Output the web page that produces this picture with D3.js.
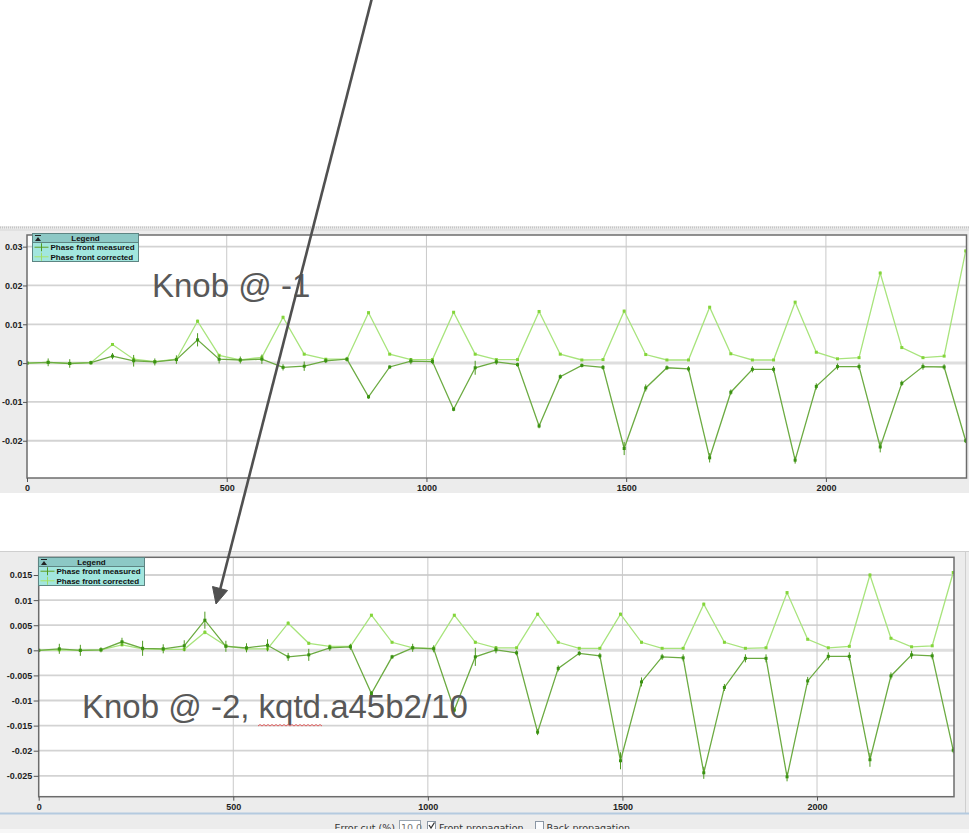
<!DOCTYPE html>
<html>
<head>
<meta charset="utf-8">
<script src="https://cdn.jsdelivr.net/npm/d3@7"></script>
<style>
  body { margin: 0; background: #fff; }
  svg { display: block; }
  .axis text { font-family: 'Liberation Sans', Arial, sans-serif; font-weight: bold; fill: #1e1e1e; }
  .axis line { stroke: #555; }
</style>
</head>
<body>
<svg width="969" height="833"></svg>
<script>
// position along the line (m), same for both plots
var sPos = [0, 53, 107, 160, 214, 267, 320, 374, 427, 481, 534, 588, 641, 694, 748,
  801, 855, 908, 961, 1015, 1068, 1122, 1175, 1228, 1282, 1335, 1389, 1442, 1495, 1549,
  1602, 1656, 1709, 1762, 1816, 1869, 1923, 1976, 2029, 2083, 2136, 2190, 2243, 2296, 2350];

// knob @ -1
var measuredTop = [0, 0.0002, -0.0001, 0.0001, 0.0018, 0.0006, 0.0003, 0.0009, 0.006, 0.001, 0.0008, 0.001, -0.0011, -0.0008, 0.0006,
  0.001, -0.0087, -0.001, 0.0005, 0.0004, -0.0119, -0.0012, 0.0003, -0.0004, -0.0162, -0.0035, -0.0006, -0.0011, -0.022, -0.0064,
  -0.0012, -0.0015, -0.0244, -0.0075, -0.0016, -0.0016, -0.025, -0.006, -0.0009, -0.0009, -0.0216, -0.0052, -0.0009, -0.001, -0.02];
var correctedTop = [0, 0.0002, -0.0001, 0.0001, 0.0048, 0.001, 0.0004, 0.001, 0.0108, 0.002, 0.0008, 0.0015, 0.0118, 0.0023, 0.001,
  0.001, 0.013, 0.0023, 0.0009, 0.0009, 0.0131, 0.0023, 0.0009, 0.0009, 0.0133, 0.0023, 0.0008, 0.0009, 0.0134, 0.0022,
  0.0008, 0.0008, 0.0144, 0.0024, 0.0008, 0.0008, 0.0157, 0.0028, 0.0011, 0.0014, 0.0232, 0.004, 0.0014, 0.0018, 0.0289];

// knob @ -2, kqtd.a45b2/10
var measuredBottom = [0, 0.0003, 0, 0.0001, 0.0017, 0.0004, 0.0003, 0.0009, 0.006, 0.0008, 0.0005, 0.001, -0.0013, -0.0009, 0.0005,
  0.0007, -0.0086, -0.0013, 0.0005, 0.0003, -0.0119, -0.0013, 0.0001, -0.0005, -0.0163, -0.0036, -0.0006, -0.0011, -0.022, -0.0063,
  -0.0013, -0.0015, -0.0244, -0.0074, -0.0016, -0.0016, -0.0252, -0.0061, -0.0012, -0.0012, -0.0218, -0.0051, -0.0009, -0.0011, -0.0199];
var correctedBottom = [0, 0.0001, 0, 0.0001, 0.0011, 0.0003, 0.0002, 0.0002, 0.0036, 0.0009, 0.0003, 0.0003, 0.0054, 0.0014, 0.0008,
  0.0008, 0.007, 0.0016, 0.0005, 0.0004, 0.007, 0.0016, 0.0005, 0.0005, 0.0072, 0.0016, 0.0004, 0.0004, 0.0072, 0.0016,
  0.0004, 0.0004, 0.0092, 0.0016, 0.0004, 0.0005, 0.0115, 0.0022, 0.0005, 0.0008, 0.015, 0.0024, 0.0007, 0.0009, 0.0155];

// error bars
var errMeasured = [0.0002, 0.001, 0.0011, 0.0005, 0.0008, 0.0015, 0.0009, 0.0011, 0.0017, 0.0011, 0.0009, 0.0012, 0.0008, 0.0012, 0.0006,
  0.0006, 0.0005, 0.0004, 0.0008, 0.0007, 0.0005, 0.0018, 0.0007, 0.0005, 0.0006, 0.0006, 0.0005, 0.0006, 0.0017, 0.0009,
  0.0006, 0.0007, 0.0012, 0.0007, 0.0008, 0.0008, 0.0009, 0.0008, 0.0008, 0.0008, 0.0014, 0.0007, 0.0008, 0.0007, 0.0006];
var errCorrected = [0.0001, 0.0003, 0.0003, 0.0002, 0.0003, 0.0004, 0.0003, 0.0003, 0.0004, 0.0003, 0.0003, 0.0003, 0.0004, 0.0003, 0.0002,
  0.0002, 0.0002, 0.0002, 0.0003, 0.0003, 0.0002, 0.0003, 0.0002, 0.0002, 0.0002, 0.0002, 0.0002, 0.0002, 0.0003, 0.0003,
  0.0002, 0.0002, 0.0003, 0.0002, 0.0002, 0.0002, 0.0003, 0.0002, 0.0002, 0.0002, 0.0003, 0.0002, 0.0002, 0.0002, 0.0003];

var xTicks = [0, 500, 1000, 1500, 2000];
var yTicksTop = [-0.02, -0.01, 0, 0.01, 0.02, 0.03];
var yTicksBottom = [-0.025, -0.02, -0.015, -0.01, -0.005, 0, 0.005, 0.01, 0.015];
var seriesNames = ['Phase front measured', 'Phase front corrected'];

var colors = {
  measured: {line: '#6cab42', mark: '#3a9212', err: '#4e9a20'},
  corrected: {line: '#a8e47c', mark: '#84d53a', err: '#9edc68'}
};

var svg = d3.select('svg');

// window chrome / panels
svg.append('rect').attr('x', 0).attr('y', 226).attr('width', 969).attr('height', 267).attr('fill', '#ececec');
svg.append('line').attr('x1', 0).attr('x2', 969).attr('y1', 227.5).attr('y2', 227.5)
  .attr('stroke', '#c4c4c4').attr('stroke-width', 2).attr('stroke-dasharray', '1,1');
svg.append('line').attr('x1', 0).attr('x2', 969).attr('y1', 230).attr('y2', 230)
  .attr('stroke', '#d6d6d6');

svg.append('rect').attr('x', 0).attr('y', 551).attr('width', 969).attr('height', 262).attr('fill', '#ececec');
svg.append('line').attr('x1', 0).attr('x2', 969).attr('y1', 551.5).attr('y2', 551.5).attr('stroke', '#cfcfcf');
svg.append('line').attr('x1', 965.5).attr('x2', 965.5).attr('y1', 551).attr('y2', 813).attr('stroke', '#cfcfcf');
svg.append('rect').attr('x', 0).attr('y', 814).attr('width', 969).attr('height', 15).attr('fill', '#ececec');
svg.append('line').attr('x1', 0).attr('x2', 969).attr('y1', 813.5).attr('y2', 813.5)
  .attr('stroke', '#b4cadf').attr('stroke-width', 2);
svg.append('rect').attr('x', 0).attr('y', 829).attr('width', 969).attr('height', 4).attr('fill', '#f7f7f7');

drawChart({
  left: 27, right: 966.5, top: 235, bottom: 478,
  yDomain: [-0.0296, 0.033], yTicks: yTicksTop,
  measured: measuredTop, corrected: correctedTop,
  fontSize: 9, tickSize: 4, tickPad: 0.5, legendX: 32.5, legendY: 233.5, id: 'top'
});

drawChart({
  left: 38.7, right: 954, top: 557.3, bottom: 796.7,
  yDomain: [-0.02916, 0.01853], yTicks: yTicksBottom,
  measured: measuredBottom, corrected: correctedBottom,
  fontSize: 9, tickSize: 5, tickPad: 1.5, legendX: 38.5, legendY: 557.5, id: 'bottom'
});

function drawChart(c) {
  var xScale = d3.scaleLinear().domain([0, 2352]).range([c.left, c.right]);
  var yScale = d3.scaleLinear().domain(c.yDomain).range([c.bottom, c.top]);
  var g = svg.append('g');

  g.append('rect')
    .attr('x', c.left).attr('y', c.top)
    .attr('width', c.right - c.left).attr('height', c.bottom - c.top)
    .attr('fill', '#fff');

  // grid
  g.selectAll('.hgrid').data(c.yTicks).enter().append('line')
    .attr('x1', c.left).attr('x2', c.right)
    .attr('y1', function(d) { return yScale(d); })
    .attr('y2', function(d) { return yScale(d); })
    .attr('stroke', function(d) { return d === 0 ? '#dedede' : '#d3d3d3'; })
    .attr('stroke-width', function(d) { return d === 0 ? 3 : 1.8; });

  g.selectAll('.vgrid').data(xTicks.slice(1)).enter().append('line')
    .attr('x1', function(d) { return xScale(d); })
    .attr('x2', function(d) { return xScale(d); })
    .attr('y1', c.top).attr('y2', c.bottom)
    .attr('stroke', '#c9c9c9').attr('stroke-width', 1);

  svg.append('clipPath').attr('id', 'clip-' + c.id)
    .append('rect')
    .attr('x', c.left).attr('y', c.top)
    .attr('width', c.right - c.left).attr('height', c.bottom - c.top);

  var plot = g.append('g').attr('clip-path', 'url(#clip-' + c.id + ')');

  drawSeries(plot, c.corrected, errCorrected, colors.corrected, xScale, yScale);
  drawSeries(plot, c.measured, errMeasured, colors.measured, xScale, yScale);

  g.append('rect')
    .attr('x', c.left).attr('y', c.top)
    .attr('width', c.right - c.left).attr('height', c.bottom - c.top)
    .attr('fill', 'none').attr('stroke', '#6c6c6c').attr('stroke-width', 1.5);

  var yAxis = d3.axisLeft(yScale).tickValues(c.yTicks).tickSize(c.tickSize).tickPadding(c.tickPad)
    .tickFormat(function(d) { return String(d); });
  var xAxis = d3.axisBottom(xScale).tickValues(xTicks).tickSize(4).tickPadding(3)
    .tickFormat(function(d) { return String(d); });

  var ya = g.append('g').attr('class', 'axis')
    .attr('transform', 'translate(' + c.left + ',0)')
    .call(yAxis);
  var xa = g.append('g').attr('class', 'axis')
    .attr('transform', 'translate(0,' + c.bottom + ')')
    .call(xAxis);
  ya.select('.domain').remove();
  xa.select('.domain').remove();
  ya.selectAll('text').style('font-size', c.fontSize + 'px');
  xa.selectAll('text').style('font-size', c.fontSize + 'px');

  drawLegend(c.legendX, c.legendY);
}

function drawSeries(parent, values, errs, col, xScale, yScale) {
  var pts = sPos.map(function(s, i) { return {s: s, v: values[i], e: errs[i]}; });

  var line = d3.line()
    .x(function(d) { return xScale(d.s); })
    .y(function(d) { return yScale(d.v); });

  parent.append('path')
    .datum(pts)
    .attr('d', line)
    .attr('fill', 'none')
    .attr('stroke', col.line)
    .attr('stroke-width', 1.3);

  parent.selectAll(null).data(pts).enter().append('line')
    .attr('x1', function(d) { return xScale(d.s); })
    .attr('x2', function(d) { return xScale(d.s); })
    .attr('y1', function(d) { return yScale(d.v - d.e); })
    .attr('y2', function(d) { return yScale(d.v + d.e); })
    .attr('stroke', col.err)
    .attr('stroke-width', 1);

  parent.selectAll(null).data(pts).enter().append('rect')
    .attr('x', function(d) { return xScale(d.s) - 1.5; })
    .attr('y', function(d) { return yScale(d.v) - 1.5; })
    .attr('width', 3).attr('height', 3)
    .attr('fill', col.mark);
}

function drawLegend(lx, ly) {
  var lg = svg.append('g').attr('transform', 'translate(' + [lx, ly] + ')');
  var w = 106, hh = 9, rowH = 9.5;

  lg.append('rect').attr('width', w).attr('height', hh + rowH * 2)
    .attr('fill', '#a2e6de').attr('stroke', '#5d8583').attr('stroke-width', 1);
  lg.append('rect').attr('width', w).attr('height', hh)
    .attr('fill', '#8cc8c5').attr('stroke', '#5d8583').attr('stroke-width', 1);

  // collapse icon
  lg.append('line').attr('x1', 2.5).attr('x2', 8.5).attr('y1', 2).attr('y2', 2)
    .attr('stroke', '#222').attr('stroke-width', 1);
  lg.append('path').attr('d', 'M2.5,7.5 L5.5,3.5 L8.5,7.5 Z').attr('fill', '#222');

  lg.append('text')
    .attr('x', w / 2).attr('y', 7.5)
    .attr('text-anchor', 'middle')
    .style('font-family', "'Liberation Sans', Arial, sans-serif")
    .style('font-weight', 'bold').style('font-size', '8px').style('fill', '#111')
    .text('Legend');

  var keys = [colors.measured, colors.corrected];
  seriesNames.forEach(function(name, i) {
    var cy = hh + rowH * i + rowH / 2;
    lg.append('line').attr('x1', 2).attr('x2', 16).attr('y1', cy).attr('y2', cy)
      .attr('stroke', keys[i].line).attr('stroke-width', 1.2);
    lg.append('line').attr('x1', 9).attr('x2', 9).attr('y1', cy - 4).attr('y2', cy + 4)
      .attr('stroke', keys[i].err).attr('stroke-width', 1);
    lg.append('text')
      .attr('x', 18).attr('y', cy + 3)
      .style('font-family', "'Liberation Sans', Arial, sans-serif")
      .style('font-weight', 'bold').style('font-size', '8px').style('fill', '#111')
      .text(name);
  });
}

// control strip at the bottom (clipped by the window edge)
svg.append('clipPath').attr('id', 'clip-strip')
  .append('rect').attr('x', 0).attr('y', 815).attr('width', 969).attr('height', 14);
var strip = svg.append('g').attr('clip-path', 'url(#clip-strip)')
  .style('font-family', "'DejaVu Sans', sans-serif").style('font-size', '9.5px').style('fill', '#333');
strip.append('text').attr('x', 395).attr('y', 830.5).attr('text-anchor', 'end').text('Error cut (%)');
strip.append('rect').attr('x', 399.5).attr('y', 820.5).attr('width', 21).attr('height', 12)
  .attr('fill', '#fff').attr('stroke', '#9aa6b2');
strip.append('text').attr('x', 401).attr('y', 830.5).style('fill', '#777').text('10.0');
strip.append('rect').attr('x', 427.5).attr('y', 821.5).attr('width', 8).attr('height', 8)
  .attr('fill', '#fff').attr('stroke', '#8a96a4');
strip.append('path').attr('d', 'M429,825 L431,828 L434.5,822.5').attr('fill', 'none')
  .attr('stroke', '#333').attr('stroke-width', 1.3);
strip.append('text').attr('x', 439).attr('y', 830.5).text('Front propagation');
strip.append('rect').attr('x', 535.5).attr('y', 821.5).attr('width', 8).attr('height', 8)
  .attr('fill', '#fbfcfe').attr('stroke', '#8a96a4');
strip.append('text').attr('x', 546.5).attr('y', 830.5).text('Back propagation');

// annotations
svg.append('text')
  .attr('x', 152).attr('y', 296.5)
  .style('font-family', "'Liberation Sans', Arial, sans-serif")
  .style('font-size', '33px').style('fill', '#585858')
  .text('Knob @ -1');

svg.append('text')
  .attr('x', 82).attr('y', 717.5)
  .style('font-family', "'Liberation Sans', Arial, sans-serif")
  .style('font-size', '33px').style('fill', '#585858')
  .text('Knob @ -2, kqtd.a45b2/10');

// spell-check squiggle under "kqtd"
var squiggle = 'M258,726';
for (var sx = 258; sx < 320; sx += 4) {
  squiggle += ' L' + (sx + 2) + ',724.5 L' + (sx + 4) + ',726';
}
svg.append('path').attr('d', squiggle).attr('fill', 'none')
  .attr('stroke', '#e05050').attr('stroke-width', 0.9);

// arrow
svg.append('line')
  .attr('x1', 372).attr('y1', -2).attr('x2', 220).attr('y2', 590)
  .attr('stroke', '#505050').attr('stroke-width', 2.6);
svg.append('path')
  .attr('d', 'M216,604 L227.5,590.5 L212.5,586.5 Z')
  .attr('fill', '#505050').attr('stroke', '#505050').attr('stroke-width', 1);
</script>
</body>
</html>
